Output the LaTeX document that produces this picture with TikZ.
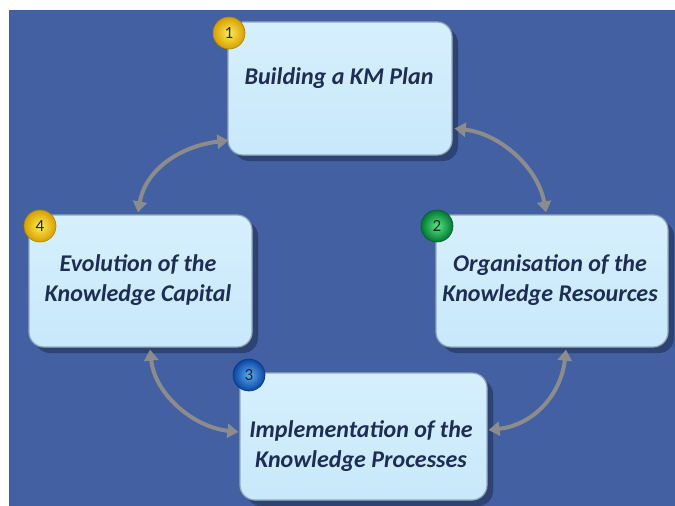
\documentclass[tikz,border=0pt]{standalone}
\usepackage{fontspec}
\setmainfont{Carlito}
\usetikzlibrary{arrows.meta,shadows,calc}
\definecolor{bgblue}{RGB}{66,96,162}
\definecolor{boxtop}{RGB}{214,239,253}
\definecolor{boxbot}{RGB}{200,232,251}
\definecolor{boxedge}{RGB}{150,168,188}
\definecolor{txtc}{RGB}{30,45,85}
\definecolor{arrc}{RGB}{140,140,140}
\definecolor{yelin}{RGB}{255,235,90}
\definecolor{yelout}{RGB}{215,160,0}
\definecolor{grnin}{RGB}{90,230,130}
\definecolor{grnout}{RGB}{0,120,50}
\definecolor{bluin}{RGB}{90,170,245}
\definecolor{bluout}{RGB}{10,70,160}
\begin{document}
\begin{tikzpicture}[x=1pt,y=-1pt,
  kmbox/.style={rectangle, rounded corners=15pt, draw=boxedge, line width=1.2pt,
    top color=boxtop, bottom color=boxbot,
    drop shadow={shadow xshift=6pt, shadow yshift=-6pt, opacity=0.3, fill=black}},
  kmtext/.style={align=center, text=txtc, font=\fontsize{24}{30}\selectfont\bfseries\itshape},
  badge/.style={circle, minimum size=32pt, inner sep=0pt, text=black!85,
    font=\fontsize{17}{17}\selectfont, draw=#1out!80!black, line width=0.6pt,
    inner color=#1in, outer color=#1out},
  cyc/.style={draw=arrc, line width=4pt,
    {Triangle[width=14pt,length=11pt]}-{Triangle[width=14pt,length=11pt]}}
]
\useasboundingbox (0,0) rectangle (675,506);
\fill[white] (0,0) rectangle (675,506);
\fill[bgblue] (9,10) rectangle (675,506);

% boxes
\node[kmbox, minimum width=224pt, minimum height=133pt] (b1) at (340,88.5) {};
\node[kmbox, minimum width=223pt, minimum height=132pt] (b4) at (140.5,281) {};
\node[kmbox, minimum width=232pt, minimum height=132pt] (b2) at (552,281) {};
\node[kmbox, minimum width=247pt, minimum height=127pt] (b3) at (363.5,436.5) {};

% texts
\node[kmtext] (t1) at (339,78) {Building a KM Plan};
\node[kmtext] (t4) at (138,280) {Evolution of the\\Knowledge Capital};
\node[kmtext] (t2) at (550,280) {Organisation of the\\Knowledge Resources};
\node[kmtext] (t3) at (361,446) {Implementation of the\\Knowledge Processes};

% badges
\node[badge=yel] (n1) at (229,33) {1};
\node[badge=yel] (n4) at (40,226) {4};
\node[badge=grn] (n2) at (437,226) {2};
\node[badge=blu] (n3) at (249,375) {3};

% arrows
\draw[cyc] ($(b4.north)+(-2.5,-2)$) .. controls +(8,-45) and +(-45,5) .. ($(b1.west)+(1,52)$);
\draw[cyc] ($(b1.east)+(2,40)$) .. controls +(45,5) and +(-8,-45) .. ($(b2.north)+(-6,-2)$);
\draw[cyc] ($(b4.south)+(9.5,2)$) .. controls +(5,45) and +(-45,-5) .. ($(b3.west)+(-1,-4.5)$);
\draw[cyc] ($(b2.south)+(14,2)$) .. controls +(-5,45) and +(45,-5) .. ($(b3.east)+(1,-6.5)$);
\end{tikzpicture}
\end{document}
